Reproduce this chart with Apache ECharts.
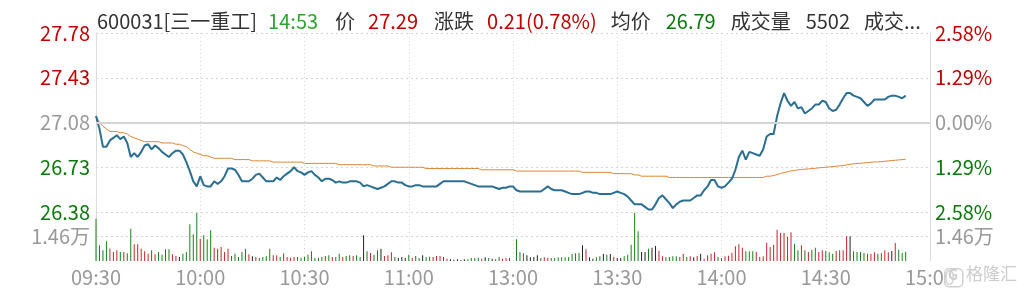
<!DOCTYPE html>
<html>
<head>
<meta charset="utf-8">
<title>600031 分时</title>
<script src="https://cdn.jsdelivr.net/npm/echarts@6/dist/echarts.min.js"></script>
<style>
  html, body { margin: 0; padding: 0; background: #fff; }
  #chart { width: 1017px; height: 293px; }
</style>
</head>
<body>
<div id="chart"></div>
<script>
// 昨收
const preClose = 27.08;

// 分时价格 09:30 起每分钟一个点，到 14:53
const prices = [
  27.13, 27.03, 26.89, 26.89, 26.94, 26.96, 26.98, 26.95, 26.97, 26.92,
  26.81, 26.84, 26.81, 26.85, 26.90, 26.91, 26.87, 26.90, 26.88, 26.85,
  26.83, 26.81, 26.84, 26.86, 26.86, 26.83, 26.77, 26.70, 26.62, 26.58,
  26.66, 26.59, 26.58, 26.58, 26.62, 26.60, 26.62, 26.66, 26.72, 26.72,
  26.71, 26.67, 26.62, 26.62, 26.62, 26.64, 26.67, 26.68, 26.65, 26.62,
  26.62, 26.62, 26.65, 26.63, 26.66, 26.68, 26.70, 26.73, 26.70, 26.69,
  26.67, 26.69, 26.70, 26.67, 26.65, 26.62, 26.64, 26.64, 26.63, 26.61,
  26.62, 26.61, 26.61, 26.62, 26.62, 26.62, 26.61, 26.58, 26.59, 26.58,
  26.57, 26.56, 26.57, 26.58, 26.60, 26.62, 26.62, 26.61, 26.61, 26.59,
  26.58, 26.58, 26.59, 26.59, 26.58, 26.58, 26.58, 26.58, 26.58, 26.60,
  26.62, 26.62, 26.62, 26.62, 26.62, 26.62, 26.62, 26.61, 26.60, 26.59,
  26.58, 26.58, 26.58, 26.58, 26.58, 26.57, 26.56, 26.57, 26.57, 26.58,
  26.58, 26.55, 26.54, 26.54, 26.54, 26.54, 26.54, 26.54, 26.54, 26.56,
  26.58, 26.56, 26.55, 26.55, 26.55, 26.54, 26.53, 26.52, 26.52, 26.52,
  26.53, 26.54, 26.54, 26.53, 26.53, 26.52, 26.52, 26.52, 26.52, 26.53,
  26.54, 26.53, 26.52, 26.50, 26.47, 26.44, 26.44, 26.44, 26.42, 26.40,
  26.40, 26.44, 26.49, 26.51, 26.48, 26.45, 26.41, 26.44, 26.46, 26.47,
  26.47, 26.47, 26.49, 26.51, 26.51, 26.55, 26.58, 26.63, 26.63, 26.58,
  26.57, 26.58, 26.61, 26.64, 26.71, 26.81, 26.86, 26.79, 26.85, 26.84,
  26.83, 26.82, 26.87, 26.97, 26.99, 26.99, 27.13, 27.23, 27.31, 27.25,
  27.21, 27.24, 27.19, 27.20, 27.15, 27.17, 27.19, 27.22, 27.22, 27.25,
  27.24, 27.19, 27.17, 27.18, 27.22, 27.27, 27.31, 27.31, 27.29, 27.28,
  27.27, 27.24, 27.21, 27.23, 27.26, 27.26, 27.26, 27.26, 27.28, 27.29,
  27.29, 27.28, 27.27, 27.29
];

// 均价
const avgPrices = [
  27.13, 27.08, 27.05, 27.03, 27.01, 27.01, 27.01, 27.00, 27.00, 26.99,
  26.97, 26.96, 26.95, 26.94, 26.93, 26.93, 26.93, 26.93, 26.93, 26.92,
  26.92, 26.92, 26.92, 26.91, 26.91, 26.90, 26.89, 26.87, 26.85, 26.84,
  26.83, 26.82, 26.82, 26.81, 26.80, 26.80, 26.80, 26.80, 26.80, 26.80,
  26.79, 26.79, 26.79, 26.79, 26.79, 26.78, 26.78, 26.78, 26.78, 26.78,
  26.78, 26.77, 26.77, 26.77, 26.77, 26.77, 26.77, 26.77, 26.77, 26.77,
  26.76, 26.76, 26.76, 26.76, 26.76, 26.76, 26.76, 26.76, 26.76, 26.76,
  26.75, 26.75, 26.75, 26.75, 26.75, 26.75, 26.75, 26.75, 26.75, 26.75,
  26.74, 26.74, 26.74, 26.74, 26.74, 26.73, 26.73, 26.73, 26.73, 26.73,
  26.73, 26.73, 26.73, 26.73, 26.73, 26.72, 26.72, 26.72, 26.72, 26.72,
  26.72, 26.72, 26.72, 26.72, 26.72, 26.72, 26.72, 26.72, 26.72, 26.72,
  26.72, 26.71, 26.71, 26.71, 26.71, 26.71, 26.71, 26.71, 26.71, 26.71,
  26.71, 26.70, 26.70, 26.70, 26.70, 26.70, 26.70, 26.70, 26.70, 26.70,
  26.70, 26.70, 26.70, 26.70, 26.70, 26.70, 26.70, 26.70, 26.70, 26.70,
  26.69, 26.69, 26.69, 26.69, 26.69, 26.69, 26.69, 26.69, 26.69, 26.68,
  26.68, 26.68, 26.68, 26.68, 26.68, 26.67, 26.67, 26.66, 26.66, 26.66,
  26.66, 26.66, 26.66, 26.66, 26.66, 26.65, 26.65, 26.65, 26.65, 26.65,
  26.65, 26.65, 26.65, 26.65, 26.65, 26.65, 26.65, 26.65, 26.65, 26.65,
  26.65, 26.65, 26.65, 26.65, 26.65, 26.65, 26.65, 26.65, 26.65, 26.65,
  26.65, 26.65, 26.65, 26.66, 26.66, 26.665, 26.673, 26.681, 26.689, 26.694,
  26.702, 26.704, 26.71, 26.712, 26.715, 26.717, 26.72, 26.722, 26.725, 26.728,
  26.73, 26.733, 26.735, 26.738, 26.741, 26.743, 26.748, 26.754, 26.756, 26.759,
  26.761, 26.764, 26.766, 26.769, 26.772, 26.772, 26.774, 26.777, 26.78, 26.782,
  26.785, 26.787, 26.79, 26.792
];

// 成交量（手）
const volumes = [
  25200, 9340, 6360, 11720, 7350, 5360, 6360, 5360, 5360, 4570,
  19270, 9930, 9930, 7350, 5760, 4370, 6360, 3970, 5360, 3780,
  6950, 6950, 3970, 2980, 2380, 4370, 5360, 21860, 15900, 28610,
  13310, 15300, 12920, 18280, 7950, 7350, 8350, 5360, 7350, 2980,
  4370, 2380, 5360, 7350, 3970, 2780, 2380, 1790, 2380, 2780,
  7350, 3380, 3380, 2380, 4570, 2380, 1990, 2380, 2380, 1990,
  2380, 3780, 5760, 1790, 1990, 2380, 2980, 3380, 2380, 2380,
  4370, 2380, 2980, 3380, 2980, 3380, 2380, 15300, 5760, 4770,
  3780, 6360, 7350, 2980, 3380, 5170, 2380, 1790, 2380, 1790,
  3780, 1790, 2980, 1790, 3380, 2190, 2580, 2380, 2980, 2980,
  2380, 1390, 990, 790, 990, 600, 990, 990, 1790, 1790,
  1990, 1390, 2190, 1790, 1390, 990, 2380, 1390, 1790, 1790,
  0, 12920, 5360, 4570, 3380, 2190, 2380, 3380, 1790, 2190,
  1990, 1790, 1790, 2190, 2190, 2190, 2190, 4170, 4570, 4770,
  9340, 6950, 2190, 1390, 2190, 2780, 4170, 3780, 4170, 2580,
  1790, 1790, 2780, 3780, 9740, 28810, 17680, 5360, 5360, 7350,
  7950, 8940, 6160, 2780, 2190, 2380, 2780, 2780, 2380, 4170,
  2380, 2780, 2190, 2980, 4370, 1390, 3380, 4370, 5170, 2380,
  1790, 2780, 3180, 4970, 8740, 9940, 7950, 5760, 5760, 5760,
  5560, 2380, 2780, 10930, 8350, 9740, 18680, 16690, 16690, 14310,
  17090, 10330, 6360, 9340, 6360, 5360, 6760, 7950, 5360, 6360,
  5960, 5170, 4370, 5960, 6360, 6360, 14700, 14700, 5760, 5360,
  5360, 4770, 4370, 4370, 5170, 4370, 4770, 6360, 5170, 5960,
  10730, 6760, 4770, 5500
];

// 涨跌方向：1 红, -1 绿, 0 黑
const volDirs = [
  -1, -1, -1, -1, 1, 1, 1, -1, 1, -1,
  -1, 1, 1, 1, 1, 1, -1, 1, -1, -1,
  -1, -1, 1, 1, 0, -1, -1, -1, -1, -1,
  1, -1, -1, -1, 1, -1, 1, 1, 1, -1,
  -1, -1, -1, -1, 1, 0, 1, -1, -1, -1,
  -1, 1, 1, -1, 1, 1, 1, 1, -1, -1,
  -1, -1, 1, -1, -1, -1, 1, -1, 1, -1,
  -1, 1, -1, -1, 1, -1, -1, 0, -1, 1,
  -1, -1, 0, 1, 1, 1, -1, 0, 0, 0,
  -1, 1, -1, -1, 0, -1, -1, 1, 1, 1,
  1, 1, 0, 0, 0, 0, 0, -1, -1, -1,
  -1, 1, 0, -1, 0, 1, -1, 1, 1, 1,
  0, -1, -1, 1, 0, 0, 0, 0, -1, 1,
  1, -1, -1, -1, -1, -1, -1, -1, -1, -1,
  0, 1, 0, 0, -1, -1, 0, -1, 0, 1,
  0, 0, -1, -1, -1, -1, -1, 0, 0, -1,
  0, 0, 1, 1, -1, -1, -1, -1, 1, 1,
  -1, 1, 0, 1, 0, 1, 1, 1, 1, -1,
  -1, 1, 1, 1, 1, 1, 1, -1, -1, -1,
  1, -1, 1, 1, 1, 1, 1, 1, 1, -1,
  1, -1, -1, 1, -1, 1, -1, -1, 1, 1,
  -1, -1, -1, 1, 1, 1, 1, 0, -1, -1,
  -1, -1, -1, 1, 1, -1, -1, 1, 1, 0,
  1, -1, -1, -1
];

// 时间轴标签
const timeLabels = ['09:30', '10:00', '10:30', '11:00', '13:00', '13:30', '14:00', '14:30', '15:00'];

// 顶部行情
const headerParts = [
  ['600031[三一重工]', '#333333', 11],
  ['14:53', '#2ea52e', 17],
  ['价', '#333333', 13],
  ['27.29', '#c00000', 16],
  ['涨跌', '#333333', 13],
  ['0.21(0.78%)', '#c00000', 14],
  ['均价', '#333333', 15],
  ['26.79', '#0a7a0a', 15],
  ['成交量', '#333333', 15],
  ['5502', '#333333', 14],
  ['成交...', '#333333', 0]
];

const RED = '#c00000';
const GREEN = '#0a7a0a';
const GRAY = '#999999';
const FONT = '"Noto Sans CJK SC", "Noto Sans", sans-serif';

// 分钟类目 09:30-11:30, 13:01-15:00
const minutes = [];
for (let m = 570; m <= 690; m++) minutes.push(m);
for (let m = 781; m <= 900; m++) minutes.push(m);
const categories = minutes.map(m => String(Math.floor(m / 60)).padStart(2, '0') + ':' + String(m % 60).padStart(2, '0'));

// 价格换成相对昨收的分
const toCents = p => (p - preClose) * 100;
const signColor = v => (v > 0.001 ? RED : (v < -0.001 ? GREEN : GRAY));

const rich = {};
let headerText = '';
headerParts.forEach((p, i) => {
  rich['c' + i] = { color: p[1], fontSize: 20, fontWeight: 'normal', fontFamily: FONT };
  rich['s' + i] = { width: p[2] };
  headerText += '{c' + i + '|' + p[0] + '}' + (p[2] ? '{s' + i + '| }' : '');
});

const myChart = echarts.init(document.getElementById('chart'));

const gridLine = { color: '#d6d6d6', type: [2, 3], width: 1 };
const vLine = { color: '#d6d6d6', type: [1, 3], width: 1 };
const border = { show: true, lineStyle: { color: '#dcdcdc', width: 1 } };

const options = {
  animation: false,
  title: {
    left: 92,
    top: 3,
    text: headerText,
    textStyle: { rich: rich, fontSize: 20, fontWeight: 'normal', lineHeight: 26 }
  },
  grid: [
    { left: 96, right: 87, top: 33, height: 179 },
    { left: 96, right: 87, top: 212, height: 49 }
  ],
  xAxis: [
    {
      type: 'category', gridIndex: 0, data: categories, boundaryGap: false,
      axisLine: { show: false }, axisTick: { show: false }, axisLabel: { show: false },
      splitLine: { show: true, interval: i => i % 30 === 0, lineStyle: vLine }
    },
    {
      type: 'category', gridIndex: 1, data: categories, boundaryGap: false,
      axisLine: { show: false }, axisTick: { show: false },
      axisLabel: {
        interval: i => i % 30 === 0,
        formatter: (v, i) => timeLabels[Math.round(i / 30)],
        color: GRAY, fontSize: 20, fontFamily: FONT, margin: 6
      },
      splitLine: { show: true, interval: i => i % 30 === 0, lineStyle: vLine }
    }
  ],
  yAxis: [
    {
      type: 'value', gridIndex: 0, position: 'left',
      min: -70, max: 70, interval: 35,
      axisLine: border, axisTick: { show: false },
      axisLabel: {
        formatter: v => (preClose + v / 100).toFixed(2),
        color: v => signColor(v), fontSize: 20, fontFamily: FONT, margin: 6
      },
      splitLine: { show: true, lineStyle: gridLine }
    },
    {
      type: 'value', gridIndex: 0, position: 'right',
      min: -70, max: 70, interval: 35,
      axisLine: border, axisTick: { show: false },
      axisLabel: {
        formatter: v => Math.abs(v / preClose).toFixed(2) + '%',
        color: v => signColor(v), fontSize: 20, fontFamily: FONT, margin: 5
      },
      splitLine: { show: false }
    },
    {
      type: 'value', gridIndex: 1, position: 'left',
      min: 0, max: 29200, interval: 14600,
      axisLine: border, axisTick: { show: false },
      axisLabel: {
        formatter: v => (v === 14600 ? '1.46万' : ''),
        color: GRAY, fontSize: 20, fontFamily: FONT, margin: 6
      },
      splitLine: { show: true, lineStyle: Object.assign({}, gridLine, { color: ['transparent', '#d6d6d6', '#d6d6d6'] }) }
    },
    {
      type: 'value', gridIndex: 1, position: 'right',
      min: 0, max: 29200, interval: 14600,
      axisLine: border, axisTick: { show: false },
      axisLabel: {
        formatter: v => (v === 14600 ? '1.46万' : ''),
        color: GRAY, fontSize: 20, fontFamily: FONT, margin: 5
      },
      splitLine: { show: false }
    }
  ],
  series: [
    {
      name: '价格', type: 'line', xAxisIndex: 0, yAxisIndex: 0,
      data: prices.map(toCents), showSymbol: false, symbol: 'none',
      lineStyle: { color: '#2a6e91', width: 2 },
      z: 4,
      markLine: {
        silent: true, symbol: 'none', label: { show: false },
        lineStyle: { color: '#d4d4d4', type: 'solid', width: 2 },
        data: [{ yAxis: 0 }]
      }
    },
    {
      name: '均价', type: 'line', xAxisIndex: 0, yAxisIndex: 0,
      data: avgPrices.map(toCents), showSymbol: false, symbol: 'none',
      lineStyle: { color: '#dd8433', width: 1 },
      z: 3
    },
    {
      name: '成交量', type: 'bar', xAxisIndex: 1, yAxisIndex: 2,
      barWidth: 1,
      data: volumes.map((v, i) => ({
        value: v,
        itemStyle: { color: volDirs[i] > 0 ? '#c8232c' : (volDirs[i] < 0 ? '#17801a' : '#222222') }
      }))
    }
  ],
  graphic: [
    {
      type: 'rect', left: 944, top: 268, z: 10,
      shape: { width: 18, height: 18, r: 4 },
      style: { fill: 'rgba(255,255,255,0.6)', stroke: '#d0d0d0', lineWidth: 1.5 }
    },
    {
      type: 'text', left: 948, top: 268, z: 11,
      style: { text: 'G', fill: '#cfcfcf', font: 'bold 14px ' + FONT }
    },
    {
      type: 'text', left: 966, top: 265, z: 11,
      style: { text: '格隆汇', fill: '#cccccc', font: '17px ' + FONT }
    }
  ]
};

myChart.setOption(options);
</script>
</body>
</html>
